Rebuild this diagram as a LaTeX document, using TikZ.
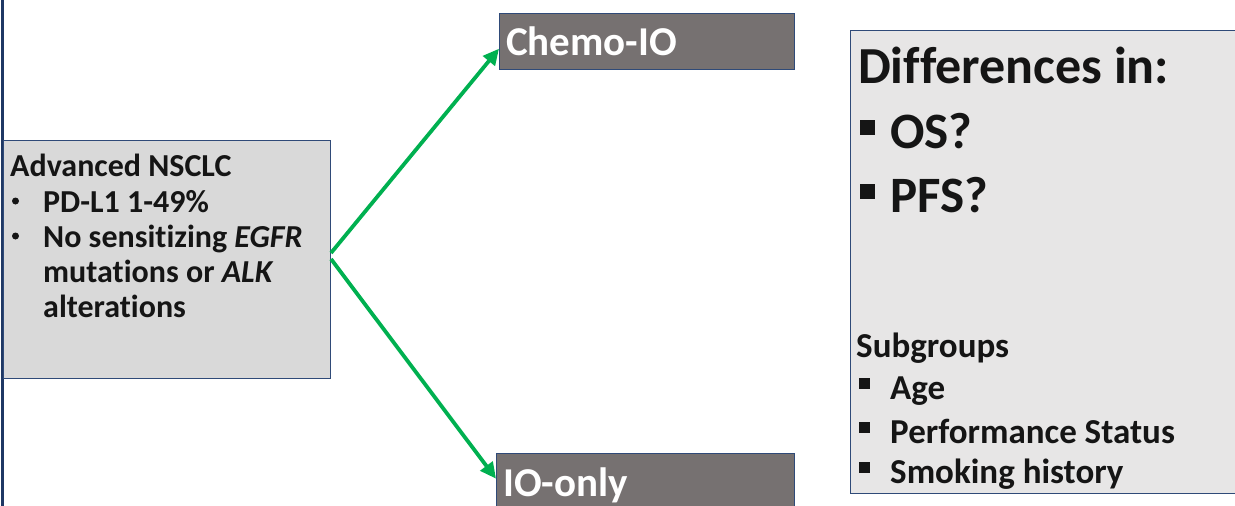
\documentclass[tikz,border=0pt]{standalone}
\usepackage{fontspec}
\setmainfont{Carlito}[Ligatures=NoCommon]
\usetikzlibrary{arrows.meta}
\definecolor{navy}{HTML}{2F4A78}
\definecolor{framenavy}{HTML}{1F3864}
\definecolor{leftgray}{HTML}{D9D9D9}
\definecolor{rightgray}{HTML}{E7E6E6}
\definecolor{darkgray}{HTML}{767171}
\definecolor{arrgreen}{HTML}{00B050}
\definecolor{ink}{HTML}{151515}
\begin{document}
\begin{tikzpicture}[x=1pt,y=-1pt,
  box/.style={draw=navy, line width=1.4pt, inner sep=0pt, anchor=north west},
  txt/.style={inner sep=0pt, anchor=base west, text=ink, font=\fontsize{#1}{#1}\selectfont\bfseries},
  wtxt/.style={inner sep=0pt, anchor=base west, text=white, font=\fontsize{41}{49}\selectfont\bfseries},
  sq/.style={fill=ink, inner sep=0pt, anchor=north west},
  dot/.style={circle, fill=ink, inner sep=0pt, minimum size=7pt},
  arr/.style={draw=arrgreen, line width=3.8pt, -{Triangle[length=16pt,width=15pt]}}]
\useasboundingbox (0,0) rectangle (1235,506);
% left frame line
\coordinate (ftop) at (2.5,0);
\coordinate (fbot) at (2.5,506);
\draw[framenavy, line width=3pt] (ftop) -- (fbot);
% boxes
\node[box, fill=leftgray, minimum width=327pt, minimum height=238pt] (lb) at (3,140) {};
\node[box, fill=darkgray, minimum width=295pt, minimum height=56pt] (chemo) at (499,13) {};
\node[box, fill=darkgray, minimum width=298pt, minimum height=60pt] (io) at (496,453) {};
\node[box, fill=rightgray, minimum width=400pt, minimum height=463pt] (rb) at (850,30) {};
% left box text
\node[txt=32] (l1) at (10,176) {Advanced NSCLC};
\node[dot] (b1) at (15.5,201) {};
\node[txt=32] (l2) at (43,212) {PD-L1 1-49\%};
\node[dot] (b2) at (15.5,236) {};
\node[txt=32] (l3) at (43,247) {No sensitizing \textit{EGFR}};
\node[txt=32] (l4) at (43,282) {mutations or \textit{ALK}};
\node[txt=32] (l5) at (43,317) {alterations};
% treatment labels
\node[wtxt] (ct) at (506,55) {Chemo-IO};
\node[wtxt] (it) at (503,496) {IO-only};
% right box text
\node[txt=52] (r1) at (858,83) {Differences in:};
\node[txt=51] (r2) at (890,148) {OS?};
\node[txt=51] (r3) at (890,212) {PFS?};
\node[sq, minimum size=15pt] (s1) at (860,120) {};
\node[sq, minimum size=15pt] (s2) at (860,184) {};
\node[txt=35] (r4) at (856,357) {Subgroups};
\node[txt=35] (r5) at (890,399) {Age};
\node[txt=35] (r6) at (890,443) {Performance Status};
\node[txt=35] (r7) at (890,483) {Smoking history};
\node[sq, minimum size=11pt] (s3) at (859,378) {};
\node[sq, minimum size=11pt] (s4) at (859,422) {};
\node[sq, minimum size=11pt] (s5) at (859,462) {};
% arrows
\coordinate (fk1) at (331,253);
\coordinate (fk2) at (331,259);
\draw[arr] (fk1) -- ([yshift=-7pt]chemo.west);
\draw[arr] (fk2) -- ([yshift=5pt]io.west);
\end{tikzpicture}
\end{document}
